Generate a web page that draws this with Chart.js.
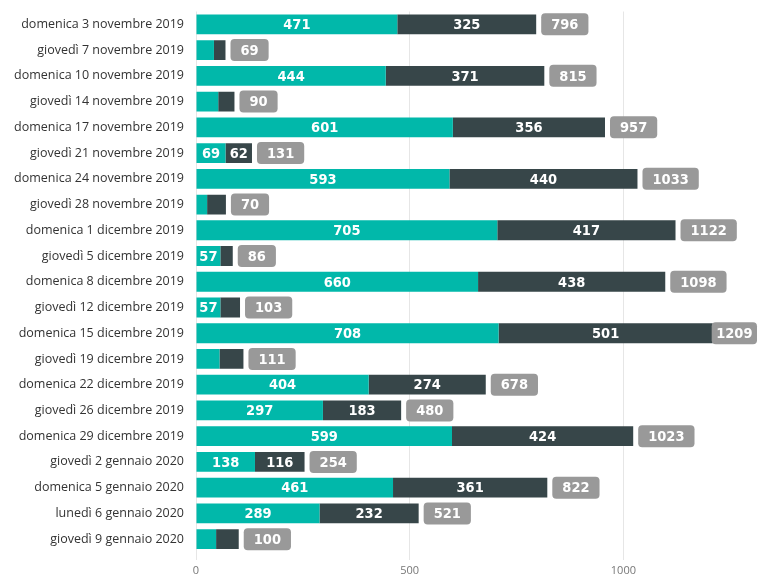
<!DOCTYPE html>
<html><head><meta charset="utf-8">
<script src="https://cdn.jsdelivr.net/npm/chart.js@4/dist/chart.umd.min.js"></script>
<style>html,body{margin:0;padding:0;background:#fff}#wrap{width:758px;height:579px}</style>
</head><body><div id="wrap"><canvas id="c"></canvas></div>
<script>
const categories = ["domenica 3 novembre 2019","giovedì 7 novembre 2019","domenica 10 novembre 2019","giovedì 14 novembre 2019","domenica 17 novembre 2019","giovedì 21 novembre 2019","domenica 24 novembre 2019","giovedì 28 novembre 2019","domenica 1 dicembre 2019","giovedì 5 dicembre 2019","domenica 8 dicembre 2019","giovedì 12 dicembre 2019","domenica 15 dicembre 2019","giovedì 19 dicembre 2019","domenica 22 dicembre 2019","giovedì 26 dicembre 2019","domenica 29 dicembre 2019","giovedì 2 gennaio 2020","domenica 5 gennaio 2020","lunedì 6 gennaio 2020","giovedì 9 gennaio 2020"];
const seriesA = [471,42,444,52,601,69,593,26,705,57,660,57,708,55,404,297,599,138,461,289,47];
const seriesB = [325,27,371,38,356,62,440,44,417,29,438,46,501,56,274,183,424,116,361,232,53];
const totals = [796,69,815,90,957,131,1033,70,1122,86,1098,103,1209,111,678,480,1023,254,822,521,100];
const xTicks = [0,500,1000];

const labelFont = 'bold 14.5px "DejaVu Sans Condensed", "DejaVu Sans", sans-serif';
const labelPlugin = {
  id: 'labels',
  afterDatasetsDraw(chart) {
    const ctx = chart.ctx;
    const xs = chart.scales.x;
    const zero = xs.getPixelForValue(0);
    const minW = 24.1;
    ctx.save();
    ctx.font = labelFont;
    ctx.textBaseline = 'middle';
    ctx.textAlign = 'center';
    chart.data.datasets.forEach((ds, di) => {
      const meta = chart.getDatasetMeta(di);
      meta.data.forEach((bar, i) => {
        const v = ds.data[i];
        const w = xs.getPixelForValue(v) - zero;
        if (w >= minW) {
          ctx.fillStyle = '#ffffff';
          ctx.fillText(String(v), (bar.x + bar.base) / 2, bar.y + 1);
        }
      });
    });
    const metaB = chart.getDatasetMeta(1);
    const right = chart.width;
    metaB.data.forEach((bar, i) => {
      const txt = String(totals[i]);
      const tw = ctx.measureText(txt).width;
      let bw = tw + 20;
      const bh = 22;
      let x0 = bar.x + 5;
      if (x0 + bw > right - 1) { x0 = bar.x - 1; bw = right - 1 - x0; }
      const y0 = bar.y - bh / 2;
      ctx.fillStyle = '#999999';
      ctx.beginPath();
      ctx.roundRect(x0, y0, bw, bh, 4);
      ctx.fill();
      ctx.fillStyle = '#ffffff';
      ctx.fillText(txt, x0 + bw / 2, bar.y + 1);
    });
    ctx.restore();
  }
};

new Chart(document.getElementById('c'), {
  type: 'bar',
  data: {
    labels: categories,
    datasets: [
      { data: seriesA, backgroundColor: '#01B8AA', barPercentage: 0.77, categoryPercentage: 1 },
      { data: seriesB, backgroundColor: '#374649', barPercentage: 0.77, categoryPercentage: 1 }
    ]
  },
  options: {
    indexAxis: 'y',
    responsive: true,
    maintainAspectRatio: false,
    animation: false,
    layout: { padding: { top: -14, right: 0, left: 0, bottom: 0 } },
    plugins: { legend: { display: false }, tooltip: { enabled: false } },
    scales: {
      x: {
        stacked: true, min: 0, max: 1315,
        afterBuildTicks(s) { s.ticks = xTicks.map(v => ({ value: v })); },
        afterFit(s) { s.height = 27; },
        grid: { color: '#e6e6e6', drawTicks: true, tickLength: 8, tickColor: '#e6e6e6' },
        border: { display: false },
        ticks: { color: '#777', font: { family: '"Open Sans", sans-serif', size: 11 }, padding: 4,
                 callback: v => String(v) }
      },
      y: {
        stacked: true,
        afterFit(s) { s.width = 196; },
        grid: { display: false },
        border: { display: false },
        ticks: { color: '#333', font: { family: '"Open Sans", sans-serif', size: 12.5 }, padding: 4, autoSkip: false }
      }
    }
  },
  plugins: [labelPlugin]
});
</script></body></html>
